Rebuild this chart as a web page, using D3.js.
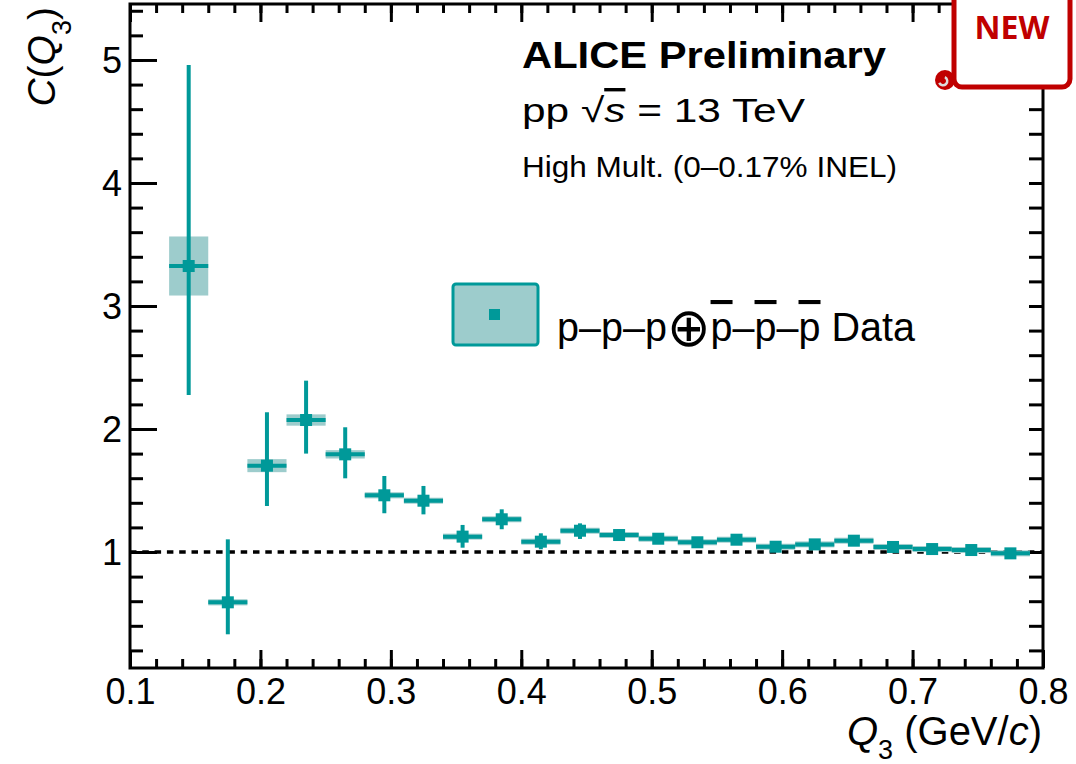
<!DOCTYPE html>
<html>
<head>
<meta charset="utf-8">
<script src="https://cdn.jsdelivr.net/npm/d3@7"></script>
<style>
    body { margin: 0; background: #fff; }
    svg text { font-family: "Liberation Sans", Arial, sans-serif; }
    .axis line { stroke: #000; stroke-width: 3; }
    .axis path { display: none; }
</style>
</head>
<body>
<svg id="chart"></svg>
<script>
// Q3 bin centres (GeV/c) and correlation values
const q3 = [0.145, 0.175, 0.205, 0.235, 0.265, 0.295, 0.325, 0.355, 0.385, 0.415, 0.445,
            0.475, 0.505, 0.535, 0.565, 0.595, 0.625, 0.655, 0.685, 0.715, 0.745, 0.775]
const cq3 = [3.325, 0.591, 1.702, 2.073, 1.794, 1.461, 1.417, 1.125, 1.266, 1.084, 1.173,
             1.138, 1.108, 1.079, 1.100, 1.043, 1.062, 1.092, 1.041, 1.024, 1.016, 0.989]
const statUp = [1.635, 0.512, 0.434, 0.320, 0.220, 0.157, 0.120, 0.095, 0.081, 0.068, 0.060,
                0.045, 0.040, 0.035, 0.035, 0.030, 0.030, 0.030, 0.028, 0.025, 0.025, 0.025]
const statDown = [1.049, 0.260, 0.328, 0.273, 0.195, 0.146, 0.111, 0.090, 0.081, 0.062, 0.067,
                  0.040, 0.035, 0.030, 0.030, 0.030, 0.028, 0.028, 0.025, 0.025, 0.022, 0.022]
const sysErr = [0.240, 0.025, 0.053, 0.046, 0.034, 0.025, 0.020, 0.018, 0.016, 0.015, 0.014,
                0.013, 0.012, 0.012, 0.012, 0.011, 0.011, 0.011, 0.010, 0.010, 0.010, 0.010]
const binHalf = 0.015

const xTicks = [0.1, 0.2, 0.3, 0.4, 0.5, 0.6, 0.7, 0.8]
const yTicks = [1, 2, 3, 4, 5]
const xDomain = [0.1, 0.8]
const yDomain = [0.057, 5.455]

/**********************************************
 * layout
 **********************************************/
const width = 1076
const height = 764
const frameL = 130, frameR = 1043, frameT = 4, frameB = 668
const teal = '#009999'
const tealLight = '#9dcccc'

const chart = d3.select('#chart').attr('width', width).attr('height', height)

const xScale = d3.scaleLinear().domain(xDomain).range([frameL, frameR])
const yScale = d3.scaleLinear().domain(yDomain).range([frameB, frameT])

const xMinor = d3.range(0.1, 0.8001, 0.02)
const yMinor = d3.range(0.2, 5.4001, 0.2)

// ticks on all four sides
function addAxis(axis, transform) {
    return chart.append('g').attr('class', 'axis').attr('transform', transform).call(axis)
}
addAxis(d3.axisBottom(xScale).tickValues(xMinor).tickSizeInner(-9).tickSizeOuter(0).tickFormat(''), `translate(0,${frameB})`)
addAxis(d3.axisTop(xScale).tickValues(xMinor).tickSizeInner(-9).tickSizeOuter(0).tickFormat(''), `translate(0,${frameT})`)
addAxis(d3.axisTop(xScale).tickValues(xTicks).tickSizeInner(-18).tickSizeOuter(0).tickFormat(''), `translate(0,${frameT})`)
addAxis(d3.axisLeft(yScale).tickValues(yMinor).tickSizeInner(-13).tickSizeOuter(0).tickFormat(''), `translate(${frameL},0)`)
addAxis(d3.axisRight(yScale).tickValues(yMinor).tickSizeInner(-14).tickSizeOuter(0).tickFormat(''), `translate(${frameR},0)`)

const gx = addAxis(d3.axisBottom(xScale).tickValues(xTicks).tickSizeInner(-18).tickSizeOuter(0)
    .tickPadding(10).tickFormat(d3.format('.1f')), `translate(0,${frameB})`)
const gy = addAxis(d3.axisLeft(yScale).tickValues(yTicks).tickSizeInner(-27).tickSizeOuter(0)
    .tickPadding(8).tickFormat(d3.format('d')), `translate(${frameL},0)`)
gx.attr('font-size', null).attr('font-family', null)
gy.attr('font-size', null).attr('font-family', null)
gx.selectAll('text').attr('font-size', 36).attr('fill', '#000')
gy.selectAll('text').attr('font-size', 36).attr('fill', '#000').attr('dy', '0.36em')

// frame
chart.append('rect')
    .attr('x', frameL).attr('y', frameT)
    .attr('width', frameR - frameL).attr('height', frameB - frameT)
    .attr('fill', 'none').attr('stroke', '#000').attr('stroke-width', 3)

// C = 1 reference line
chart.append('line')
    .attr('x1', xScale(xDomain[0])).attr('x2', xScale(xDomain[1]))
    .attr('y1', yScale(1)).attr('y2', yScale(1))
    .attr('stroke', '#000').attr('stroke-width', 3.5).attr('stroke-dasharray', '6.5,5.8')

/**********************************************
 * data
 **********************************************/
const pts = q3.map((x, i) => ({ x, y: cq3[i], up: statUp[i], dn: statDown[i], sys: sysErr[i] }))

// systematic boxes (at least 6 px tall so they show round the bar)
const sysH = d => Math.max(yScale(d.y - d.sys) - yScale(d.y + d.sys), 6)
chart.append('g').selectAll('rect').data(pts).join('rect')
    .attr('x', d => xScale(d.x - binHalf))
    .attr('width', d => xScale(d.x + binHalf) - xScale(d.x - binHalf))
    .attr('y', d => yScale(d.y) - sysH(d) / 2)
    .attr('height', sysH)
    .attr('fill', tealLight)

// horizontal bars (bin width)
chart.append('g').selectAll('line').data(pts).join('line')
    .attr('x1', d => xScale(d.x - binHalf)).attr('x2', d => xScale(d.x + binHalf))
    .attr('y1', d => yScale(d.y)).attr('y2', d => yScale(d.y))
    .attr('stroke', teal).attr('stroke-width', 4)

// statistical errors
chart.append('g').selectAll('line').data(pts).join('line')
    .attr('x1', d => xScale(d.x)).attr('x2', d => xScale(d.x))
    .attr('y1', d => yScale(d.y + d.up)).attr('y2', d => yScale(d.y - d.dn))
    .attr('stroke', teal).attr('stroke-width', 4)

// markers
const ms = 12
chart.append('g').selectAll('rect').data(pts).join('rect')
    .attr('x', d => xScale(d.x) - ms / 2).attr('y', d => yScale(d.y) - ms / 2)
    .attr('width', ms).attr('height', ms)
    .attr('fill', teal)

/**********************************************
 * legend and labels
 **********************************************/
chart.append('rect')
    .attr('x', 453).attr('y', 284).attr('width', 85).attr('height', 61).attr('rx', 3)
    .attr('fill', tealLight).attr('stroke', teal).attr('stroke-width', 3)
chart.append('rect')
    .attr('x', 489).attr('y', 309).attr('width', 11).attr('height', 11).attr('fill', teal)

const leg = chart.append('text').attr('x', 557).attr('y', 341).attr('font-size', 41)
    .attr('fill', '#000').attr('textLength', 358).attr('lengthAdjust', 'spacingAndGlyphs')
leg.append('tspan').text('p–p–p')
leg.append('tspan').style('font-family', '"DejaVu Sans"').attr('font-size', 54).attr('dy', 5).text('⊕')
leg.append('tspan').attr('dy', -5).style('text-decoration', 'overline').text('p')
leg.append('tspan').text('–')
leg.append('tspan').style('text-decoration', 'overline').text('p')
leg.append('tspan').text('–')
leg.append('tspan').style('text-decoration', 'overline').text('p')
leg.append('tspan').text(' Data')

chart.append('text').attr('x', 522).attr('y', 68)
    .attr('font-size', 37).attr('font-weight', 'bold')
    .attr('textLength', 364).attr('lengthAdjust', 'spacingAndGlyphs')
    .text('ALICE Preliminary')

const pp = chart.append('text').attr('x', 522).attr('y', 122).attr('font-size', 34)
    .attr('textLength', 283).attr('lengthAdjust', 'spacingAndGlyphs')
pp.append('tspan').text('pp  √')
pp.append('tspan').attr('font-style', 'italic').style('text-decoration', 'overline').text('s')
pp.append('tspan').text(' = 13 TeV')

chart.append('text').attr('x', 522).attr('y', 177).attr('font-size', 30)
    .attr('textLength', 375).attr('lengthAdjust', 'spacingAndGlyphs')
    .text('High Mult. (0–0.17% INEL)')

// axis titles
const xt = chart.append('text').attr('x', 1042).attr('y', 745)
    .attr('font-size', 40).attr('text-anchor', 'end')
xt.append('tspan').attr('font-style', 'italic').text('Q')
xt.append('tspan').attr('font-size', 27).attr('dy', 14).text('3')
xt.append('tspan').attr('dy', -14).text(' (GeV/')
xt.append('tspan').attr('font-style', 'italic').text('c')
xt.append('tspan').text(')')

const yt = chart.append('text').attr('transform', 'translate(55,7) rotate(-90)')
    .attr('font-size', 39).attr('text-anchor', 'end')
yt.append('tspan').attr('font-style', 'italic').text('C')
yt.append('tspan').text('(')
yt.append('tspan').attr('font-style', 'italic').text('Q')
yt.append('tspan').attr('font-size', 27).attr('dy', 16).text('3')
yt.append('tspan').attr('dy', -16).text(')')

/**********************************************
 * NEW badge
 **********************************************/
const red = '#c00000'
chart.append('rect')
    .attr('x', 954).attr('y', -12).attr('width', 116).attr('height', 99).attr('rx', 8)
    .attr('fill', '#fff').attr('stroke', red).attr('stroke-width', 5)
chart.append('circle').attr('cx', 945).attr('cy', 80).attr('r', 10).attr('fill', red)
chart.append('path')
    .attr('d', d3.arc()({ innerRadius: 3, outerRadius: 5.5, startAngle: Math.PI * 0.15, endAngle: Math.PI * 1.35 }))
    .attr('transform', 'translate(943,81)').attr('fill', '#ddd')
chart.append('text').attr('x', 1012).attr('y', 39)
    .attr('text-anchor', 'middle').attr('font-size', 32).attr('font-weight', 'bold')
    .attr('fill', red).style('font-family', '"Open Sans", sans-serif')
    .text('NEW')
</script>
</body>
</html>
